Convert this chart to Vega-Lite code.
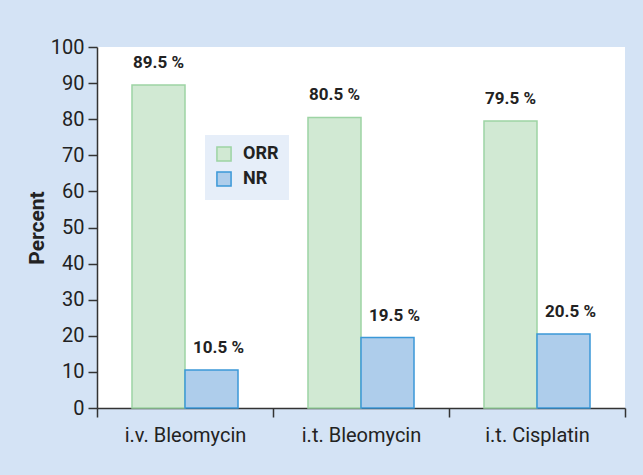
{
  "$schema": "https://vega.github.io/schema/vega-lite/v6.json",
  "autosize": "none",
  "width": 528,
  "height": 361,
  "padding": {"left": 97, "top": 47, "right": 18, "bottom": 67},
  "background": "#d4e3f5",
  "view": {"fill": "white", "stroke": null},
  "config": {
    "font": "Roboto",
    "axis": {"labelFont": "Roboto", "titleFont": "Roboto"},
    "legend": {"labelFont": "Roboto"}
  },
  "data": {
    "values": [
      {"treatment": "i.v. Bleomycin", "response": "ORR", "percent": 89.5, "label": "89.5 %"},
      {"treatment": "i.v. Bleomycin", "response": "NR", "percent": 10.5, "label": "10.5 %"},
      {"treatment": "i.t. Bleomycin", "response": "ORR", "percent": 80.5, "label": "80.5 %"},
      {"treatment": "i.t. Bleomycin", "response": "NR", "percent": 19.5, "label": "19.5 %"},
      {"treatment": "i.t. Cisplatin", "response": "ORR", "percent": 79.5, "label": "79.5 %"},
      {"treatment": "i.t. Cisplatin", "response": "NR", "percent": 20.5, "label": "20.5 %"}
    ]
  },
  "encoding": {
    "x": {
      "field": "treatment", "type": "nominal", "sort": null,
      "scale": {"paddingInner": 0, "paddingOuter": 0},
      "axis": {
        "title": null, "labelAngle": 0, "tickBand": "extent",
        "domainColor": "#333", "domainWidth": 1.5, "tickColor": "#333", "tickWidth": 1.5,
        "tickSize": 9, "labelFontSize": 20, "labelColor": "#222", "labelPadding": 8
      }
    },
    "xOffset": {
      "field": "response", "type": "nominal", "sort": ["ORR", "NR"],
      "scale": {"paddingInner": 0, "paddingOuter": 0.66}
    },
    "y": {
      "field": "percent", "type": "quantitative",
      "scale": {"domain": [0, 100], "nice": false},
      "axis": {
        "title": "Percent", "titleFontSize": 21, "titleFontWeight": "bold", "titleColor": "#222",
        "titlePadding": 3,
        "values": [0, 10, 20, 30, 40, 50, 60, 70, 80, 90, 100], "grid": false,
        "domainColor": "#333", "domainWidth": 1.5, "tickColor": "#333", "tickWidth": 1.5,
        "tickSize": 9, "labelFontSize": 20, "labelColor": "#222", "labelPadding": 4
      }
    }
  },
  "layer": [
    {
      "mark": {"type": "bar", "strokeWidth": 1.5},
      "encoding": {
        "fill": {
          "field": "response", "type": "nominal", "sort": ["ORR", "NR"],
          "scale": {"domain": ["ORR", "NR"], "range": ["#d1e9d3", "#aecdeb"]},
          "legend": {
            "title": null, "orient": "none", "legendX": 108, "legendY": 88,
            "fillColor": "#e6eef9", "padding": 10, "symbolType": "square", "symbolSize": 200,
            "symbolStrokeWidth": 1.5, "labelFontSize": 18, "labelFontWeight": "bold",
            "labelColor": "#222", "rowPadding": 3, "labelOffset": 10
          }
        },
        "stroke": {
          "field": "response", "type": "nominal", "sort": ["ORR", "NR"],
          "scale": {"domain": ["ORR", "NR"], "range": ["#9dd4a4", "#3b98d8"]},
          "legend": {
            "title": null, "orient": "none", "legendX": 108, "legendY": 88,
            "fillColor": "#e6eef9", "padding": 10, "symbolType": "square", "symbolSize": 200,
            "symbolStrokeWidth": 1.5, "labelFontSize": 18, "labelFontWeight": "bold",
            "labelColor": "#222", "rowPadding": 3, "labelOffset": 10
          }
        }
      }
    },
    {
      "transform": [{"filter": "datum.response === 'ORR'"}],
      "mark": {"type": "text", "fontWeight": "bold", "fontSize": 17, "color": "#222", "dy": -17, "baseline": "alphabetic"},
      "encoding": {"text": {"field": "label"}}
    },
    {
      "transform": [{"filter": "datum.response === 'NR'"}],
      "mark": {"type": "text", "fontWeight": "bold", "fontSize": 17, "color": "#222", "dy": -17, "dx": 7, "baseline": "alphabetic"},
      "encoding": {"text": {"field": "label"}}
    }
  ]
}
